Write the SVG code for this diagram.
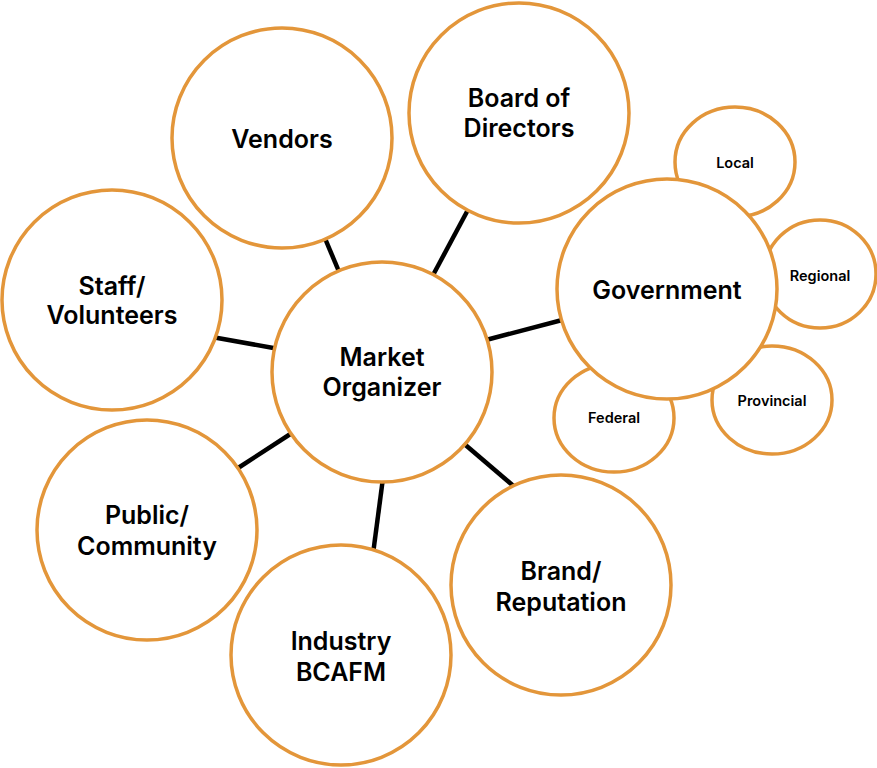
<svg xmlns="http://www.w3.org/2000/svg" width="877" height="768" viewBox="0 0 877 768">
<style>
.n{fill:#ffffff;stroke:#E3963A;stroke-width:3.5}
.c{stroke:#000000;stroke-width:4.5;stroke-linecap:butt}
.t{font-family:Inter,"Liberation Sans",sans-serif;font-weight:600;font-size:25px;fill:#000;text-anchor:middle}
.s{font-family:Inter,"Liberation Sans",sans-serif;font-weight:600;font-size:14.5px;fill:#000;text-anchor:middle}
</style>
<rect width="877" height="768" fill="#ffffff"/>
<g id="connectors">
<line class="c" x1="324" y1="236" x2="340" y2="274"/>
<line class="c" x1="470" y1="206" x2="432" y2="277"/>
<line class="c" x1="566" y1="319" x2="486" y2="340"/>
<line class="c" x1="212" y1="337" x2="279" y2="349"/>
<line class="c" x1="235" y1="470" x2="295" y2="431"/>
<line class="c" x1="383" y1="478" x2="373" y2="554"/>
<line class="c" x1="462" y1="442" x2="517" y2="489"/>
</g>
<g id="vendors"><circle class="n" cx="282" cy="138" r="110"/><text class="t" x="282" y="148">Vendors</text></g>
<g id="board"><circle class="n" cx="519" cy="113" r="110"/><text class="t" x="519" y="107">Board of</text><text class="t" x="519" y="137">Directors</text></g>
<g id="staff"><circle class="n" cx="112" cy="300" r="110"/><text class="t" x="112" y="295">Staff/</text><text class="t" x="112" y="324">Volunteers</text></g>
<g id="market"><circle class="n" cx="382" cy="372" r="110"/><text class="t" x="382" y="366">Market</text><text class="t" x="382" y="396">Organizer</text></g>
<g id="public"><circle class="n" cx="147" cy="530" r="110"/><text class="t" x="147" y="524">Public/</text><text class="t" x="147" y="555">Community</text></g>
<g id="industry"><circle class="n" cx="341" cy="655" r="110"/><text class="t" x="341" y="650">Industry</text><text class="t" x="341" y="681">BCAFM</text></g>
<g id="brand"><circle class="n" cx="561" cy="585" r="110"/><text class="t" x="561" y="580">Brand/</text><text class="t" x="561" y="611">Reputation</text></g>
<g id="local"><ellipse class="n" cx="735" cy="162" rx="60" ry="55"/><text class="s" x="735" y="168">Local</text></g>
<g id="regional"><ellipse class="n" cx="820" cy="274" rx="56" ry="54"/><text class="s" x="820" y="281">Regional</text></g>
<g id="provincial"><ellipse class="n" cx="772" cy="400" rx="60" ry="54"/><text class="s" x="772" y="406">Provincial</text></g>
<g id="federal"><ellipse class="n" cx="614" cy="418" rx="60" ry="54"/><text class="s" x="614" y="423">Federal</text></g>
<g id="government"><circle class="n" cx="667" cy="289" r="110"/><text class="t" x="667" y="299">Government</text></g>
</svg>
